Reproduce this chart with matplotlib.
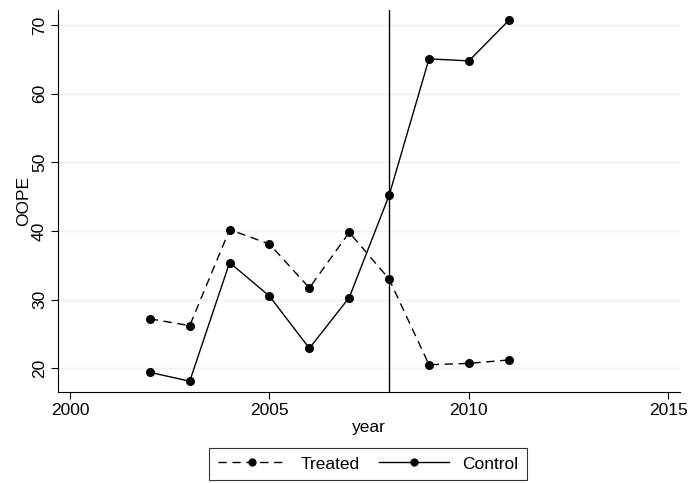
import matplotlib
matplotlib.use('Agg')
import matplotlib.pyplot as plt

plt.rcParams['font.family'] = ['Liberation Sans', 'DejaVu Sans']

# data
years = [2002, 2003, 2004, 2005, 2006, 2007, 2008, 2009, 2010, 2011]
treated = [27.2, 26.2, 40.2, 38.1, 31.7, 39.8, 33.0, 20.5, 20.7, 21.2]
control = [19.4, 18.1, 35.4, 30.5, 22.9, 30.3, 45.2, 65.1, 64.8, 70.7]
x_ticks = [2000, 2005, 2010, 2015]
y_ticks = [20, 30, 40, 50, 60, 70]
policy_year = 2008

fig = plt.figure(figsize=(6.92, 4.83), dpi=100)
ax = fig.add_axes([0.084, 0.188, 0.899, 0.791])

ax.plot(years, treated, color='black', linestyle=(0, (6, 4)), linewidth=1,
        marker='o', markersize=5.5, label='Treated')
ax.plot(years, control, color='black', linestyle='-', linewidth=1,
        marker='o', markersize=5.5, label='Control')
ax.axvline(policy_year, color='black', linewidth=1)

ax.set_xlim(1999.7, 2015.3)
ax.set_ylim(16.5, 72.2)
ax.set_xticks(x_ticks)
ax.set_yticks(y_ticks)
ax.tick_params(axis='y', labelrotation=90, labelsize=12.5, length=5, pad=3)
ax.tick_params(axis='x', labelsize=12.5, length=5, pad=3)
for lab in ax.get_yticklabels():
    lab.set_va('center')
ax.grid(axis='y', color='#eaf2f3', linewidth=1)
ax.set_axisbelow(True)
for s in ['top', 'right']:
    ax.spines[s].set_visible(False)
ax.set_xlabel('year', fontsize=12.5, labelpad=1)
ax.set_ylabel('OOPE', fontsize=12.5, labelpad=1)

leg = fig.legend(loc='upper center', bbox_to_anchor=(0.532, 0.073), ncol=2,
                 frameon=True, fancybox=False, edgecolor='black', fontsize=12.5,
                 handlelength=4.0, columnspacing=1.1, borderpad=0.5,
                 borderaxespad=0, markerscale=0.9)
leg.get_frame().set_linewidth(0.8)

fig.savefig('out.png', dpi=100)
